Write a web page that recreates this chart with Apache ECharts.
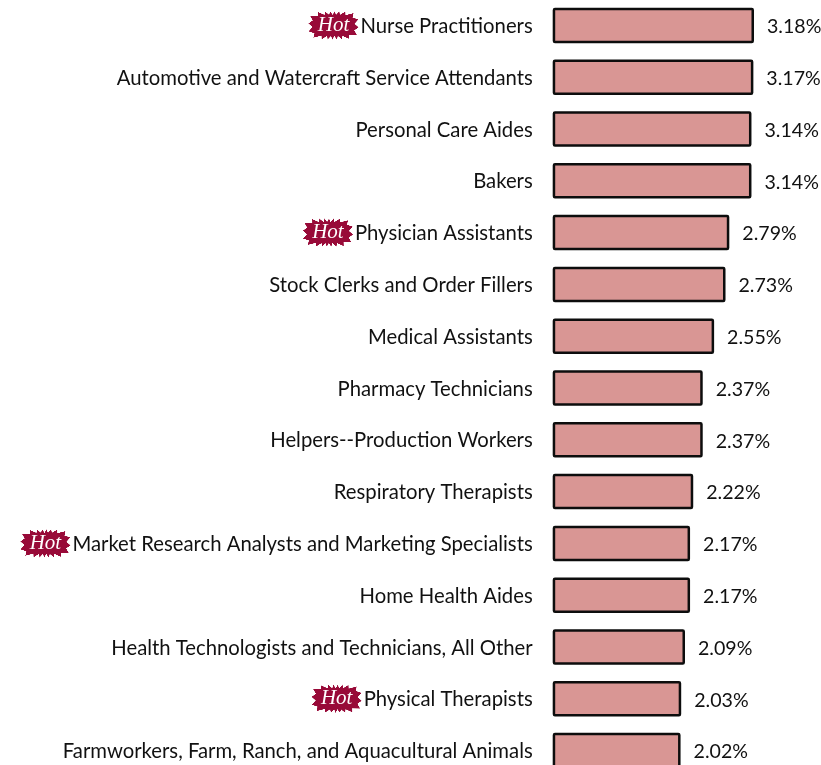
<!DOCTYPE html>
<html><head><meta charset="utf-8">
<style>html,body{margin:0;padding:0;background:#fff}#c{width:821px;height:765px}</style>
<script src="https://cdn.jsdelivr.net/npm/echarts@6/dist/echarts.min.js"></script>
</head><body><div id="c"></div>
<script>
const categories = ["Nurse Practitioners","Automotive and Watercraft Service Attendants","Personal Care Aides","Bakers","Physician Assistants","Stock Clerks and Order Fillers","Medical Assistants","Pharmacy Technicians","Helpers--Production Workers","Respiratory Therapists","Market Research Analysts and Marketing Specialists","Home Health Aides","Health Technologists and Technicians, All Other","Physical Therapists","Farmworkers, Farm, Ranch, and Aquacultural Animals"];
const values = [3.18,3.17,3.14,3.14,2.79,2.73,2.55,2.37,2.37,2.22,2.17,2.17,2.09,2.03,2.02];
const hotCategories = ["Nurse Practitioners","Physician Assistants","Market Research Analysts and Marketing Specialists","Physical Therapists"];

function burst(){
  const S=4,W=50,H=28,c=document.createElement('canvas');
  c.width=W*S;c.height=H*S;
  const g=c.getContext('2d');g.scale(S,S);g.fillStyle='#980A38';g.beginPath();
  const n=20,cx=W/2,cy=H/2;
  for(let i=0;i<n*2;i++){
    const a=Math.PI*2*(i+0.5)/(n*2),o=i%2===0;
    const ca=Math.cos(a),sa=Math.sin(a);
    const p=4,rx=o?W/2:W/2-4,ry=o?H/2:H/2-3.5;
    const k=Math.pow(Math.pow(Math.abs(ca)/rx,p)+Math.pow(Math.abs(sa)/ry,p),-1/p);
    g.lineTo(cx+k*ca,cy+k*sa);
  }
  g.closePath();g.fill();
  return c;
}
const img=burst();
const chart=echarts.init(document.getElementById('c'),null,{renderer:'canvas'});
chart.setOption({
  animation:false,
  grid:{left:552.7,top:-0.5,width:253.2,height:777,outerBoundsMode:'none',containLabel:false},
  xAxis:{type:'value',min:0,max:4,show:false},
  yAxis:{type:'category',inverse:true,data:categories,
    axisLine:{show:false},axisTick:{show:false},splitLine:{show:false},
    axisLabel:{interval:0,margin:20,fontFamily:'Lato',fontSize:20.3,color:'#111',
      formatter:v=>hotCategories.includes(v)?`{hot|Hot}{gap|}{name|${v}}`:`{name|${v}}`,
      rich:{
        name:{fontFamily:'Lato',fontSize:20.3,color:'#111',padding:[2,0,0,0]},
        gap:{width:2},
        hot:{width:50,height:28,align:'center',verticalAlign:'middle',backgroundColor:{image:img},
          color:'#fff',fontFamily:'Liberation Serif',fontStyle:'italic',fontSize:21}
      }}},
  series:[{type:'bar',data:values,barWidth:35.5,
    itemStyle:{color:'#D99694',borderColor:'#0d0d0d',borderWidth:2.5,borderRadius:1},
    label:{show:true,position:'right',distance:13,offset:[0,1.5],fontFamily:'Lato',fontSize:19.6,color:'#111',
      formatter:p=>p.value.toFixed(2)+'%'}}]
});
</script></body></html>
